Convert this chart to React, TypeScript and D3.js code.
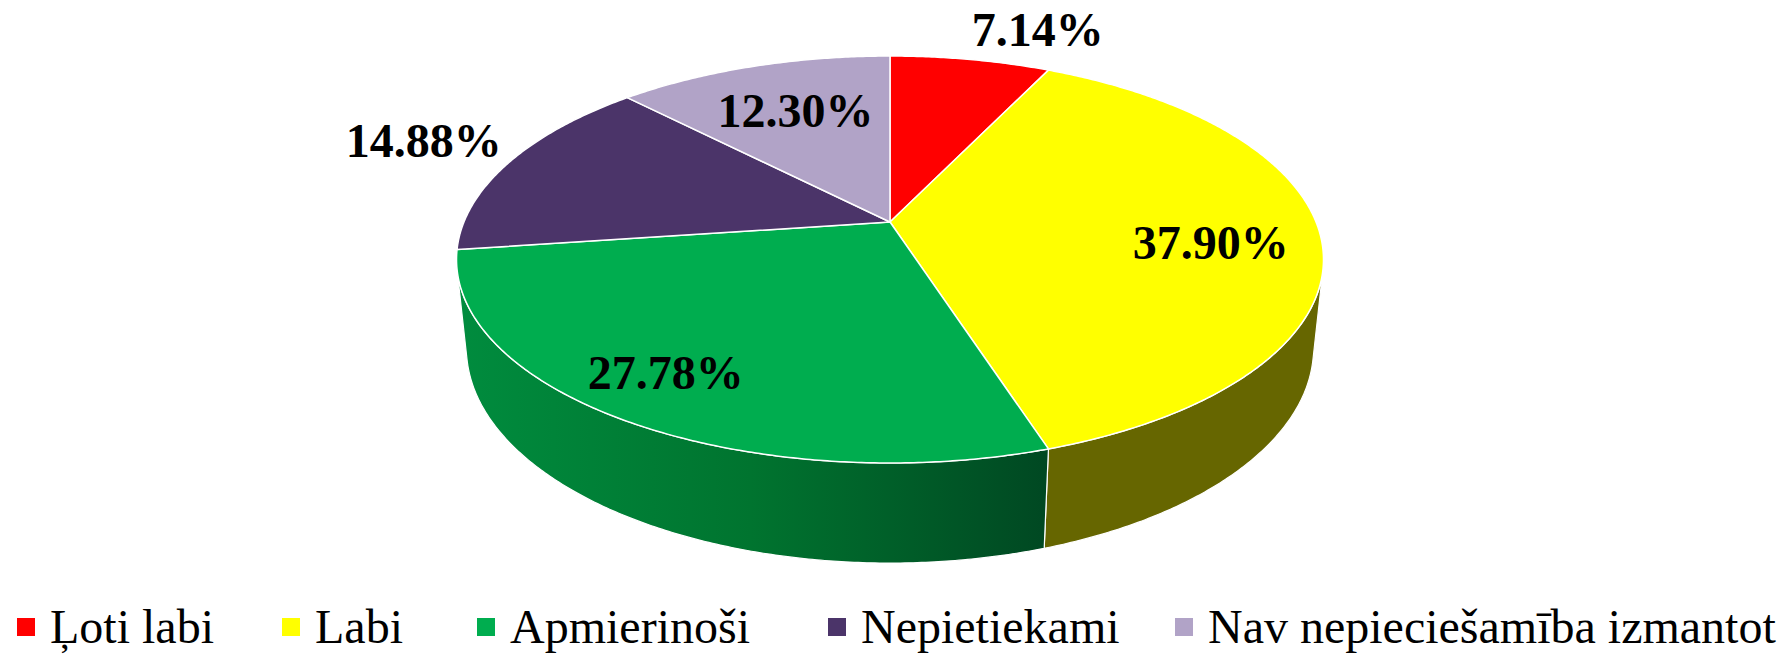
import React, { useEffect, useRef } from 'react';
import * as d3 from 'd3';

// chart data
const categories = ['Ļoti labi', 'Labi', 'Apmierinoši', 'Nepietiekami', 'Nav nepieciešamība izmantot'];
const shares = [7.14, 37.9, 27.78, 14.88, 12.3];
const valueLabels = ['7.14%', '37.90%', '27.78%', '14.88%', '12.30%'];

const topColors = ['#FF0000', '#FFFF00', '#00AD4F', '#4B3469', '#B1A3C7'];
const sideColors = ['#990000', '#666600', 'url(#greenSide)', '#2d1f3f', '#6a6177'];

const W = 1791;
const H = 655;

// perspective camera for the 3d pie
const cx = 890;
const cy = 222;
const focal = 2051;
const dist = 4.814;
const tilt = Math.asin(0.4614);
const depth = 0.2364;

const project = (a: number, r: number, y: number): [number, number] => {
  const X = r * Math.sin(a);
  const Z = r * Math.cos(a);
  const yc = y * Math.cos(tilt) + Z * Math.sin(tilt);
  const zc = dist - y * Math.sin(tilt) + Z * Math.cos(tilt);
  return [cx + (focal * X) / zc, cy - (focal * yc) / zc];
};

const arcPoints = (a0: number, a1: number, r: number, y: number) => {
  const n = Math.max(4, Math.ceil(Math.abs(a1 - a0) * 120));
  return d3.range(n + 1).map((i) => project(a0 + ((a1 - a0) * i) / n, r, y));
};

// label placement: radius in pie units plus a small nudge in px
const labelRadius = 0.78;
const labelNudge: [number, number][] = [[83, -61], [-14, 10], [-23, 3], [-166, -33], [16, 14]];
const legendX = [17, 282, 477, 828, 1175];

export default function App() {
  const svgRef = useRef<SVGSVGElement>(null);

  useEffect(() => {
    const svg = d3.select(svgRef.current).attr('width', W).attr('height', H).html(null);

    const defs = svg.append('defs');
    const grad = defs
      .append('linearGradient')
      .attr('id', 'greenSide')
      .attr('gradientUnits', 'userSpaceOnUse')
      .attr('x1', 455)
      .attr('x2', 1047)
      .attr('y1', 0)
      .attr('y2', 0);
    grad.append('stop').attr('offset', 0).attr('stop-color', '#008c3e');
    grad.append('stop').attr('offset', 0.5).attr('stop-color', '#00742f');
    grad.append('stop').attr('offset', 1).attr('stop-color', '#004822');

    const pie = d3.pie<number>().sort(null).startAngle(0).endAngle(2 * Math.PI);
    const arcs = pie(shares);
    const line = d3.line();

    // visible part of the outer wall
    const lim = Math.acos(-1 / (dist * Math.cos(tilt)));
    const visA = lim;
    const visB = 2 * Math.PI - lim;

    const sides = svg.append('g');
    arcs.forEach((d, i) => {
      const a0 = Math.max(d.startAngle, visA);
      const a1 = Math.min(d.endAngle, visB);
      if (a1 <= a0) return;
      const pts = [...arcPoints(a0, a1, 1, 0), ...arcPoints(a1, a0, 1, -depth)];
      sides
        .append('path')
        .attr('d', line(pts) + 'Z')
        .attr('fill', sideColors[i])
        .attr('stroke', '#ffffff')
        .attr('stroke-width', 1.2)
        .attr('stroke-linejoin', 'round');
    });

    const tops = svg.append('g');
    arcs.forEach((d, i) => {
      const pts = [project(0, 0, 0), ...arcPoints(d.startAngle, d.endAngle, 1, 0)];
      tops
        .append('path')
        .attr('d', line(pts) + 'Z')
        .attr('fill', topColors[i])
        .attr('stroke', '#ffffff')
        .attr('stroke-width', 1.5)
        .attr('stroke-linejoin', 'round');
    });

    // value labels
    svg
      .append('g')
      .selectAll('text')
      .data(arcs)
      .join('text')
      .attr('x', (d, i) => project((d.startAngle + d.endAngle) / 2, labelRadius, 0)[0] + labelNudge[i][0])
      .attr('y', (d, i) => project((d.startAngle + d.endAngle) / 2, labelRadius, 0)[1] + labelNudge[i][1] + 16)
      .attr('text-anchor', 'middle')
      .attr('font-family', '"Liberation Serif", "Times New Roman", serif')
      .attr('font-weight', 'bold')
      .attr('font-size', 48)
      .attr('fill', '#000')
      .text((d, i) => valueLabels[i]);

    // legend
    const legend = svg
      .append('g')
      .selectAll('g')
      .data(categories)
      .join('g')
      .attr('transform', (d, i) => `translate(${legendX[i]}, 0)`);
    legend
      .append('rect')
      .attr('x', 0)
      .attr('y', 618)
      .attr('width', 18)
      .attr('height', 18)
      .attr('fill', (d, i) => topColors[i]);
    legend
      .append('text')
      .attr('x', 33)
      .attr('y', 643)
      .attr('font-family', '"Liberation Serif", "Times New Roman", serif')
      .attr('font-size', 48)
      .attr('fill', '#000')
      .text((d) => d);
  }, []);

  return <svg ref={svgRef} style={{ position: 'absolute', left: 0, top: 0, display: 'block' }} />;
}
